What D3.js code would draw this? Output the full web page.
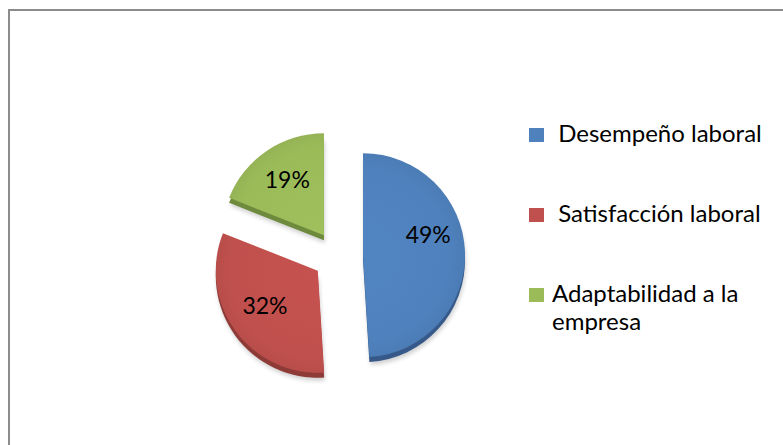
<!DOCTYPE html>
<html>
<head>
<meta charset="utf-8">
<script src="https://cdn.jsdelivr.net/npm/d3@7/dist/d3.min.js"></script>
<style>
  html, body { margin: 0; padding: 0; background: #fff; }
  svg { display: block; }
  text { font-family: Lato, "Open Sans", sans-serif; fill: #000; }
</style>
</head>
<body>
<svg id="chart" width="783" height="445"></svg>
<script>
// Share of responses by factor
const categories = ["Desempeño laboral", "Satisfacción laboral", "Adaptabilidad a la empresa"];
const values = [49, 32, 19];
const valueLabels = ["49%", "32%", "19%"];
const colors = ["#4F81BD", "#C0504D", "#9BBB59"];
const sideColors = ["#36598A", "#8E3A37", "#6E8A3C"];

const W = 783, H = 445;
const svg = d3.select("#chart");

// frame of the chart area (runs past the right and bottom edges)
svg.append("rect")
  .attr("x", 9).attr("y", 10)
  .attr("width", W + 20).attr("height", H + 20)
  .attr("fill", "#fff")
  .attr("stroke", "#8c8c8c")
  .attr("stroke-width", 2);

const cx = 338, cy = 256;       // pie centre before explosion
const r = 102;                  // pie radius
const explode = 25;             // distance each slice is pulled out
const depth = 5;                // visible thickness of the pie edge
const labelR = 0.64 * r;
const labelLift = [19, 4, 2];   // extra upward shift of each value label

const pie = d3.pie().sort(null).value(d => d)
  .startAngle(0).endAngle(2 * Math.PI);
const arcs = pie(values);
const arc = d3.arc().innerRadius(0).outerRadius(r);

const defs = svg.append("defs");
// soft shading over the slice faces
colors.forEach((c, i) => {
  const g = defs.append("radialGradient")
    .attr("id", "face" + i)
    .attr("gradientUnits", "userSpaceOnUse")
    .attr("cx", 0).attr("cy", 0).attr("r", r);
  g.append("stop").attr("offset", "0%").attr("stop-color", d3.color(c).brighter(0.08));
  g.append("stop").attr("offset", "85%").attr("stop-color", c);
  g.append("stop").attr("offset", "100%").attr("stop-color", d3.color(c).darker(0.12));
});
const blur = defs.append("filter").attr("id", "shadow")
  .attr("x", "-20%").attr("y", "-20%").attr("width", "140%").attr("height", "140%");
blur.append("feGaussianBlur").attr("stdDeviation", 2.2);

const slices = svg.append("g").selectAll("g")
  .data(arcs)
  .join("g")
  .attr("transform", d => {
    const a = (d.startAngle + d.endAngle) / 2;
    return `translate(${cx + explode * Math.sin(a)},${cy - explode * Math.cos(a)})`;
  });

// drop shadow
slices.append("path")
  .attr("d", arc)
  .attr("transform", `translate(1,${depth + 3})`)
  .attr("fill", "#000")
  .attr("opacity", 0.18)
  .attr("filter", "url(#shadow)");

// side of the slice, seen below the top face
slices.append("path")
  .attr("d", arc)
  .attr("transform", `translate(0,${depth})`)
  .attr("fill", (d, i) => sideColors[i]);

// top face
slices.append("path")
  .attr("d", arc)
  .attr("fill", (d, i) => `url(#face${i})`);

// value labels
slices.append("text")
  .attr("x", d => labelR * Math.sin((d.startAngle + d.endAngle) / 2))
  .attr("y", (d, i) => -labelR * Math.cos((d.startAngle + d.endAngle) / 2) - labelLift[i])
  .attr("text-anchor", "middle")
  .attr("dominant-baseline", "central")
  .attr("font-size", 23)
  .text((d, i) => valueLabels[i]);

// legend
const legendX = 529, legendTop = 142, rowGap = 80, lineGap = 28;
const legendLines = [[" " + categories[0]], [" " + categories[1]], ["Adaptabilidad a la", "empresa"]];
const legend = svg.append("g").selectAll("g")
  .data(categories)
  .join("g")
  .attr("transform", (d, i) => `translate(${legendX},${legendTop + i * rowGap})`);

legend.append("rect")
  .attr("x", 0).attr("y", -14)
  .attr("width", 15).attr("height", 14)
  .attr("fill", (d, i) => colors[i]);

legend.append("text")
  .attr("x", 23)
  .attr("y", 0)
  .attr("font-size", 24)
  .style("white-space", "pre")
  .selectAll("tspan")
  .data((d, i) => legendLines[i])
  .join("tspan")
  .attr("x", 23)
  .attr("dy", (d, j) => j === 0 ? 0 : lineGap)
  .text(d => d);
</script>
</body>
</html>
